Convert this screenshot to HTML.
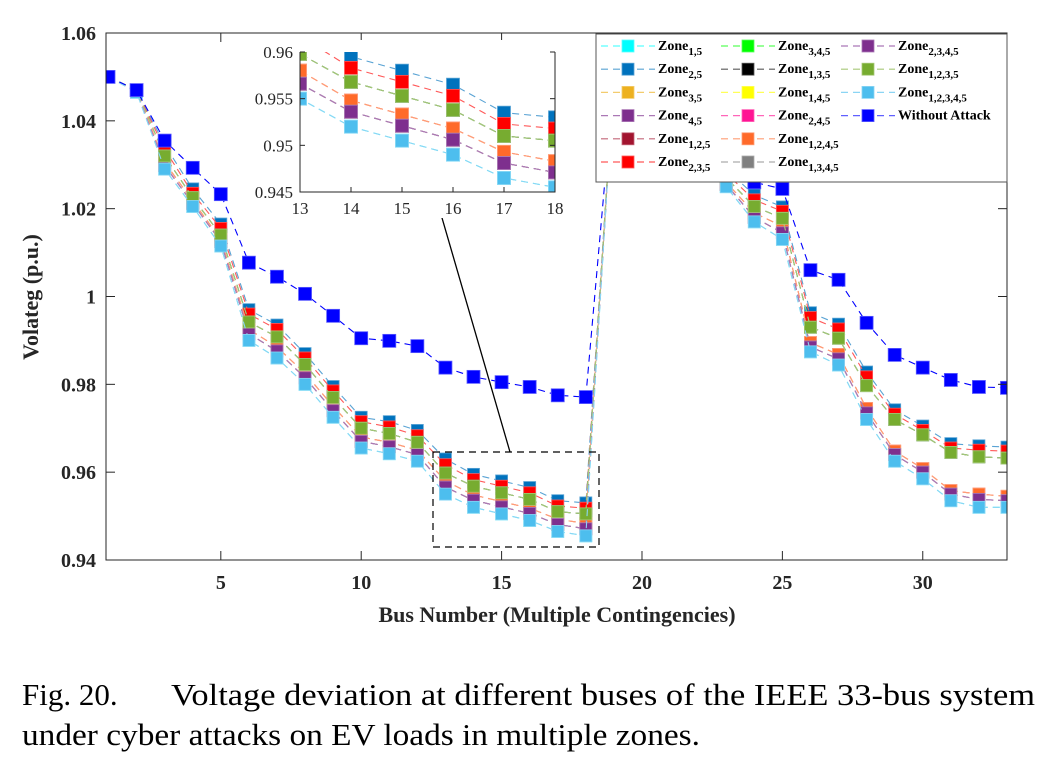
<!DOCTYPE html>
<html><head><meta charset="utf-8"><style>
html,body{margin:0;padding:0;background:#fff;}
svg{display:block;}
.tk{font-family:"Liberation Serif",serif;font-weight:bold;font-size:20px;fill:#262626;}
.itk{font-family:"Liberation Serif",serif;font-size:17px;fill:#262626;}
.lg{font-family:"Liberation Serif",serif;font-weight:bold;font-size:14px;fill:#000;}
.cap{font-family:"Liberation Serif",serif;font-size:31px;fill:#000;}
</style></head><body>
<svg id="chart" width="1056" height="778" viewBox="0 0 1056 778">
<defs>
<clipPath id="mainclip"><rect x="106" y="33" width="901" height="527"/></clipPath>
<clipPath id="insetclip"><rect x="300" y="52" width="255" height="140"/></clipPath>
</defs>
<g id="main" clip-path="url(#mainclip)"></g>
<g id="frame"></g>
<rect x="433" y="452" width="166" height="95" fill="none" stroke="#000" stroke-width="1.2" stroke-dasharray="7,5"/>
<line x1="510" y1="452" x2="431" y2="180" stroke="#000" stroke-width="1.3"/>
<polygon points="427,172 424,187 436,183" fill="#000"/>
<rect x="248" y="40" width="345" height="178" fill="#fff"/>
<g id="inset" clip-path="url(#insetclip)"></g>
<g id="iframe"></g>
<g id="legend"></g>
<text x="38" y="297" class="tk" style="font-size:22px" text-anchor="middle" transform="rotate(-90 38 297)">Volateg (p.u.)</text>
<text x="557" y="622" class="tk" style="font-size:22px" text-anchor="middle">Bus Number (Multiple Contingencies)</text>
<text x="22" y="705" class="cap">Fig. 20.</text>
<text x="171" y="705" class="cap" textLength="864" lengthAdjust="spacingAndGlyphs">Voltage deviation at different buses of the IEEE 33-bus system</text>
<text x="22" y="745" class="cap" textLength="678" lengthAdjust="spacingAndGlyphs">under cyber attacks on EV loads in multiple zones.</text>
</svg>
<script>
const buses = Array.from({length:33},(_,i)=>i+1);
const yTicks = [0.94,0.96,0.98,1,1.02,1.04,1.06];
const yTickLabels = ["0.94","0.96","0.98","1","1.02","1.04","1.06"];
const xTicks = [5,10,15,20,25,30];
const insetXTicks = [13,14,15,16,17,18];
const insetYTicks = [0.945,0.95,0.955,0.96];
const insetYTickLabels = ["0.945","0.95","0.955","0.96"];
const valsTop = [1.05,1.047,1.0345,1.0245,1.0165,0.997,0.9935,0.987,0.9795,0.9725,0.9715,0.9695,0.963,0.9595,0.958,0.9565,0.9535,0.953,1.05,1.047,1.046,1.045,1.029,1.0231,1.0204,0.9963,0.9937,0.9828,0.9742,0.9705,0.9665,0.966,0.9657];
const valsRed = [1.05,1.047,1.0335,1.0235,1.0155,0.996,0.9925,0.986,0.9785,0.9715,0.9703,0.9683,0.9617,0.9583,0.9568,0.9553,0.9523,0.9518,1.05,1.047,1.046,1.045,1.028,1.022,1.0194,0.9952,0.9926,0.9817,0.9732,0.9695,0.9655,0.965,0.9648];
const valsGreen = [1.05,1.047,1.032,1.0225,1.014,0.9942,0.9908,0.9845,0.977,0.97,0.9688,0.9668,0.9598,0.9568,0.9553,0.9538,0.951,0.9505,1.05,1.047,1.046,1.045,1.027,1.0205,1.0178,0.993,0.9905,0.9797,0.972,0.9685,0.9645,0.9635,0.9632];
const valsPink = [1.05,1.0468,1.0305,1.0218,1.013,0.9925,0.9885,0.9825,0.975,0.968,0.9668,0.965,0.958,0.9548,0.9533,0.9518,0.9493,0.9483,1.05,1.047,1.046,1.045,1.026,1.019,1.016,0.9895,0.9868,0.9745,0.9648,0.9608,0.9558,0.955,0.9545];
const valsPurple = [1.05,1.0466,1.0298,1.0212,1.0125,0.9915,0.9876,0.9815,0.974,0.967,0.9658,0.964,0.9566,0.9536,0.9521,0.9506,0.9481,0.9471,1.05,1.047,1.046,1.045,1.0255,1.018,1.0145,0.9885,0.9858,0.9735,0.964,0.96,0.955,0.9538,0.9535];
const valsLow = [1.05,1.0465,1.029,1.0205,1.0115,0.99,0.986,0.98,0.9725,0.9655,0.9642,0.9625,0.955,0.952,0.9505,0.949,0.9465,0.9455,1.05,1.047,1.046,1.045,1.025,1.017,1.013,0.9874,0.9844,0.972,0.9625,0.9585,0.9535,0.952,0.952];
const valsNoAttack = [1.05,1.047,1.0355,1.0293,1.0233,1.0077,1.0045,1.0006,0.9956,0.9905,0.9899,0.9887,0.9838,0.9817,0.9805,0.9794,0.9775,0.9771,1.0495,1.048,1.047,1.046,1.03,1.026,1.0245,1.006,1.0038,0.994,0.9867,0.9838,0.981,0.9794,0.9792];
const seriesNames = ["Zone<1,5>","Zone<2,5>","Zone<3,5>","Zone<4,5>","Zone<1,2,5>","Zone<2,3,5>","Zone<3,4,5>","Zone<1,3,5>","Zone<1,4,5>","Zone<2,4,5>","Zone<1,2,4,5>","Zone<1,3,4,5>","Zone<2,3,4,5>","Zone<1,2,3,5>","Zone<1,2,3,4,5>","Without Attack"];
const seriesValues = [valsLow,valsTop,valsPink,valsPurple,valsPurple,valsRed,valsGreen,valsGreen,valsPink,valsPink,valsPink,valsPurple,valsPurple,valsGreen,valsLow,valsNoAttack];
const seriesColors = ["#00ffff","#0072bd","#edb120","#7e2f8e","#a2142f","#ff0000","#00ff00","#000000","#ffff00","#ff1493","#ff6a2a","#808080","#7e2f8e","#77ac30","#4dbeee","#0000ff"];

const NS="http://www.w3.org/2000/svg";
function mk(tag,attrs,parent){const e=document.createElementNS(NS,tag);for(const k in attrs)e.setAttribute(k,attrs[k]);parent.appendChild(e);return e;}
const X=b=>108.5+(b-1)*(1007-108.5)/32;
const Y=v=>560-(v-0.94)*(527/0.12);
const IX=b=>300+(b-13)*(255/5);
const IY=v=>192-(v-0.945)*(140/0.015);
function light(c){const n=parseInt(c.slice(1),16);let r=n>>16,g=(n>>8)&255,b=n&255;return `rgb(${Math.round(r+(255-r)*0.35)},${Math.round(g+(255-g)*0.35)},${Math.round(b+(255-b)*0.35)})`;}

function drawSeries(g,xf,yf,sz,idxFilter){
  seriesValues.forEach((vals,s)=>{
    const col=seriesColors[s];
    const sg=mk('g',{},g);
    
    
    const pts=[];vals.forEach((v,i)=>{if(idxFilter(i+1))pts.push(xf(buses[i]).toFixed(1)+','+yf(v).toFixed(1));});
    mk('polyline',{points:pts.join(' '),fill:'none',stroke:s==15?'#0000ff':light(col),'stroke-width':1.1,'stroke-dasharray':'7,5'},sg);
    vals.forEach((v,i)=>{if(!idxFilter(i+1))return;const q=(s==15?sz+1:sz);
      const r=mk('rect',{x:xf(buses[i])-q/2,y:yf(v)-q/2,width:q,height:q,fill:col,stroke:light(col),'stroke-width':0.8},sg);
      
      });
  });
}
drawSeries(document.getElementById('main'),X,Y,12,()=>true);
drawSeries(document.getElementById('inset'),IX,IY,13,b=>b>=12&&b<=19);

const fr=document.getElementById('frame');
mk('rect',{x:106,y:33,width:901,height:527,fill:'none',stroke:'#262626','stroke-width':1},fr);
yTicks.forEach((t,i)=>{const y=Y(t);
  mk('line',{x1:106,y1:y,x2:115,y2:y,stroke:'#262626'},fr);
  mk('line',{x1:1007,y1:y,x2:998,y2:y,stroke:'#262626'},fr);
  const tx=mk('text',{x:96,y:y+7,'text-anchor':'end',class:'tk'},fr);tx.textContent=yTickLabels[i];
  
  });
xTicks.forEach(t=>{const x=X(t);
  mk('line',{x1:x,y1:560,x2:x,y2:551,stroke:'#262626'},fr);
  mk('line',{x1:x,y1:33,x2:x,y2:42,stroke:'#262626'},fr);
  const tx=mk('text',{x:x,y:589,'text-anchor':'middle',class:'tk'},fr);tx.textContent=String(t);
  
  });

const ifr=document.getElementById('iframe');
mk('polyline',{points:'300,52 300,192 555,192 555,52',fill:'none',stroke:'#262626','stroke-width':1},ifr);
insetYTicks.forEach((t,i)=>{const y=IY(t);
  mk('line',{x1:300,y1:y,x2:305,y2:y,stroke:'#262626'},ifr);
  mk('line',{x1:555,y1:y,x2:550,y2:y,stroke:'#262626'},ifr);
  const tx=mk('text',{x:293,y:y+6,'text-anchor':'end',class:'itk'},ifr);tx.textContent=insetYTickLabels[i];
  
  });
insetXTicks.forEach(t=>{const x=IX(t);
  mk('line',{x1:x,y1:192,x2:x,y2:187,stroke:'#262626'},ifr);
  const tx=mk('text',{x:x,y:214,'text-anchor':'middle',class:'itk'},ifr);tx.textContent=String(t);
  
  });

const lg=document.getElementById('legend');
mk('rect',{x:596,y:34,width:411,height:148,fill:'#fff',stroke:'#555','stroke-width':1},lg);
seriesNames.forEach((nm,s)=>{
  const col=Math.floor(s/6), row=s%6;
  const x0=601+col*120, y0=46+row*23.2;
  const eg=mk('g',{},lg);
  
  
  const c=seriesColors[s];
  mk('line',{x1:x0,y1:y0,x2:x0+54,y2:y0,stroke:s==15?'#6060ff':light(c),'stroke-width':1.2,'stroke-dasharray':'7,5'},eg);
  mk('rect',{x:x0+21,y:y0-6,width:12,height:12,fill:c,stroke:light(c),'stroke-width':0.8},eg);
  const t=mk('text',{x:x0+57,y:y0+4,class:'lg'},eg);
  const m=nm.match(/^(.*)<(.*)>$/);
  if(m){t.appendChild(document.createTextNode(m[1]));const ts=mk('tspan',{dy:5,'font-size':'11px'},t);ts.textContent=m[2];}
  else t.textContent=nm;
});
</script>
</body></html>
